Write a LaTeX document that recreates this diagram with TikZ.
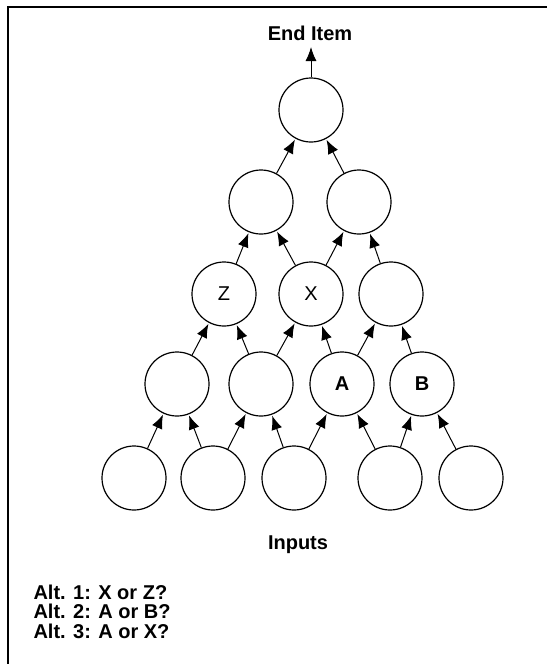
\documentclass[tikz,border=0pt]{standalone}
\usepackage{fontspec}
\setmainfont{Liberation Sans}
\usetikzlibrary{arrows.meta}

\tikzset{
  ball/.style={circle, draw, line width=1.2pt, minimum size=64pt, inner sep=0pt, font=\fontsize{20}{22}\selectfont},
  feed/.style={-{Latex[length=14pt, width=11pt]}, line width=1pt, shorten >=1pt},
  caption/.style={font=\bfseries\fontsize{20}{19.5}\selectfont}
}

\begin{document}
\begin{tikzpicture}[x=1pt, y=-1pt]
        \useasboundingbox (0, 0) rectangle (547, 664);
        \draw[line width=2pt] (8, 664) -- (8, 7) -- (547, 7);

        % levels of the tree, from the end item down to the inputs
        \node[ball] (t) at (311, 110) {};
        \node[ball] (p1) at (261, 202) {};
        \node[ball] (p2) at (359, 202) {};
        \node[ball] (z) at (224, 294) {Z};
        \node[ball] (x) at (311, 294) {X};
        \node[ball] (q3) at (391, 294) {};
        \node[ball] (c1) at (177, 384) {};
        \node[ball] (c2) at (261, 384) {};
        \node[ball] (a) at (342, 384) {\bfseries A};
        \node[ball] (b) at (422, 384) {\bfseries B};
        \foreach \x [count=\i] in {134, 213, 294, 390, 471}
                \node[ball] (in\i) at (\x, 478) {};

        \foreach \from/\to in {p1/t, p2/t, z/p1, x/p1, x/p2, q3/p2,
                        c1/z, c2/z, c2/x, a/x, a/q3, b/q3,
                        in1/c1, in2/c1, in2/c2, in3/c2, in3/a, in4/a, in4/b, in5/b}
                \draw[feed] (\from) -- (\to);

        \node[caption] (end) at (310, 33) {End Item};
        \coordinate (top) at (311, 46);
        \draw[feed] (t) -- (top);
        \node[caption] (inputs) at (298, 545) {Inputs};

        \node[caption, anchor=north west, align=left] (alts) at (30, 581)
                {Alt. 1: X or Z?\\Alt. 2: A or B?\\Alt. 3: A or X?};
\end{tikzpicture}
\end{document}
